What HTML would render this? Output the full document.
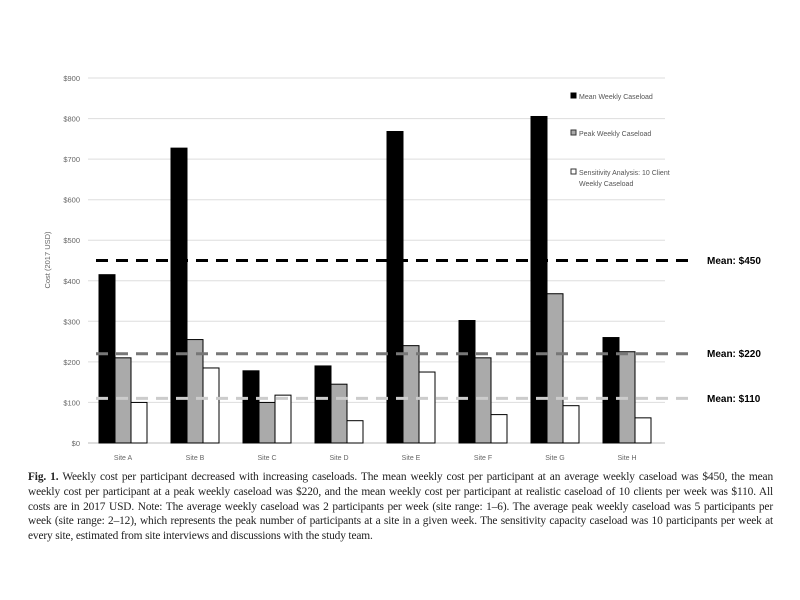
<!DOCTYPE html>
<html><head><style>
body{margin:0;background:#fff;width:800px;height:600px;overflow:hidden}
.cap{position:absolute;left:28px;top:470px;width:745px;font-family:"Liberation Serif",serif;font-size:11.4px;line-height:14.8px;color:#222;letter-spacing:-0.15px}
.cap div{text-align:justify;text-align-last:justify;white-space:nowrap;overflow:visible}
.cap div.l{text-align-last:left}
</style></head><body>
<svg width="800" height="600" style="position:absolute;left:0;top:0" font-family="Liberation Sans, sans-serif">
<g stroke="#ddd" stroke-width="1">
<line x1="88" x2="665" y1="78" y2="78"/><line x1="88" x2="665" y1="118.6" y2="118.6"/><line x1="88" x2="665" y1="159.1" y2="159.1"/><line x1="88" x2="665" y1="199.7" y2="199.7"/><line x1="88" x2="665" y1="240.2" y2="240.2"/><line x1="88" x2="665" y1="280.8" y2="280.8"/><line x1="88" x2="665" y1="321.3" y2="321.3"/><line x1="88" x2="665" y1="361.9" y2="361.9"/><line x1="88" x2="665" y1="402.4" y2="402.4"/>
</g>
<line x1="88" x2="665" y1="443" y2="443" stroke="#bbb"/>
<g font-size="7.5" fill="#666" text-anchor="end">
<text x="80" y="81">$900</text><text x="80" y="121.6">$800</text><text x="80" y="162.1">$700</text><text x="80" y="202.7">$600</text><text x="80" y="243.2">$500</text><text x="80" y="283.8">$400</text><text x="80" y="324.3">$300</text><text x="80" y="364.9">$200</text><text x="80" y="405.4">$100</text><text x="80" y="446">$0</text>
</g>
<text transform="translate(50,260) rotate(-90)" font-size="7.5" fill="#666" text-anchor="middle">Cost (2017 USD)</text>
<g id="bars" stroke="#000" stroke-width="1"></g>
<g font-size="7" fill="#666" text-anchor="middle">
<text x="123" y="460">Site A</text><text x="195" y="460">Site B</text><text x="267" y="460">Site C</text><text x="339" y="460">Site D</text><text x="411" y="460">Site E</text><text x="483" y="460">Site F</text><text x="555" y="460">Site G</text><text x="627" y="460">Site H</text>
</g>
<line x1="96" x2="690" y1="260.5" y2="260.5" stroke="#000" stroke-width="3" stroke-dasharray="12,8"/>
<line x1="96" x2="690" y1="353.8" y2="353.8" stroke="#777" stroke-width="3" stroke-dasharray="12,8"/>
<line x1="96" x2="690" y1="398.4" y2="398.4" stroke="#ccc" stroke-width="3" stroke-dasharray="12,8"/>
<g font-size="10" font-weight="bold" fill="#000">
<text x="707" y="264">Mean: $450</text><text x="707" y="357">Mean: $220</text><text x="707" y="402">Mean: $110</text>
</g>
<rect x="571" y="93" width="5" height="5" fill="#000" stroke="#000"/>
<rect x="571" y="130" width="5" height="5" fill="#aaa" stroke="#333"/>
<rect x="571" y="169" width="5" height="5" fill="#fff" stroke="#333"/>
<g font-size="7" fill="#555">
<text x="579" y="99">Mean Weekly Caseload</text>
<text x="579" y="136">Peak Weekly Caseload</text>
<text x="579" y="175">Sensitivity Analysis: 10 Client</text>
<text x="579" y="186">Weekly Caseload</text>
</g>
</svg>
<div class="cap">
<div><b>Fig. 1.</b> Weekly cost per participant decreased with increasing caseloads. The mean weekly cost per participant at an average weekly caseload was $450, the mean</div>
<div>weekly cost per participant at a peak weekly caseload was $220, and the mean weekly cost per participant at realistic caseload of 10 clients per week was $110. All</div>
<div>costs are in 2017 USD. Note: The average weekly caseload was 2 participants per week (site range: 1–6). The average peak weekly caseload was 5 participants per</div>
<div>week (site range: 2–12), which represents the peak number of participants at a site in a given week. The sensitivity capacity caseload was 10 participants per week at</div>
<div class="l">every site, estimated from site interviews and discussions with the study team.</div>
</div>
<script>
var d=[[415,210,100],[727,255,185],[178,100,118],[190,145,55],[768,240,175],[302,210,70],[805,368,92],[260,225,62]];
var f=["#000","#aaa","#fff"],g=document.getElementById("bars"),s="";
d.forEach(function(v,i){var c=123+72*i;v.forEach(function(val,j){var h=val*0.4056;s+='<rect x="'+(c-24+16*j)+'" y="'+(443-h)+'" width="16" height="'+h+'" fill="'+f[j]+'"/>';});});
g.innerHTML=s;
</script>
</body></html>
